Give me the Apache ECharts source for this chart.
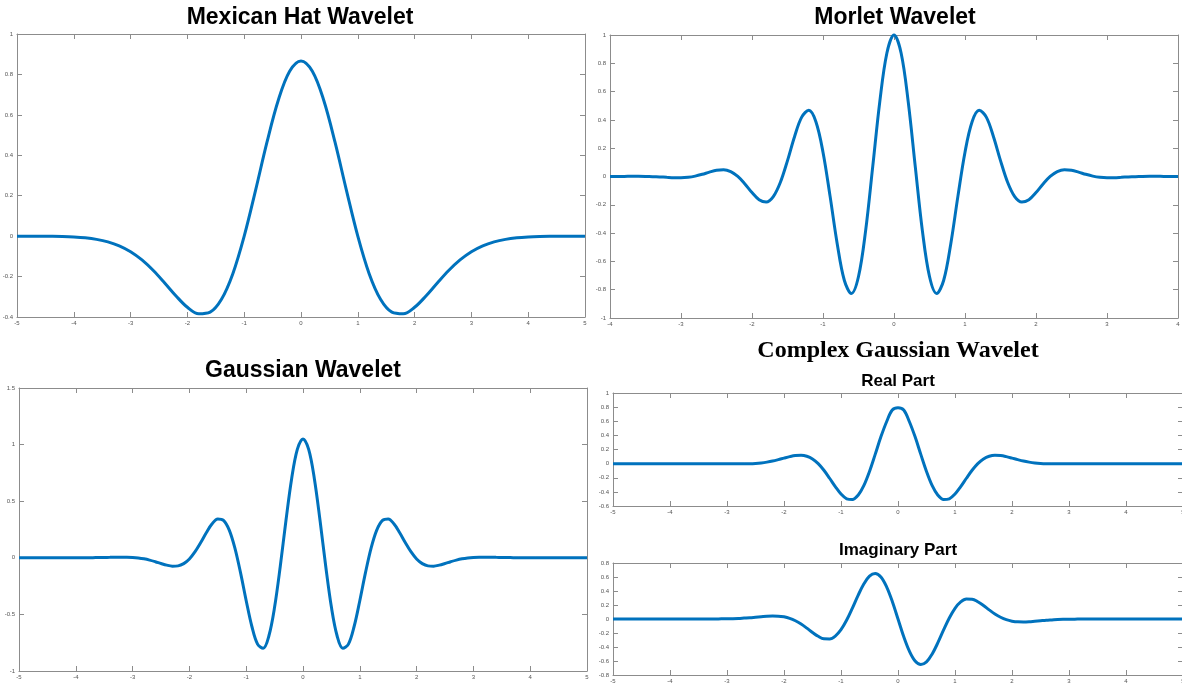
<!DOCTYPE html>
<html>
<head>
<meta charset="utf-8">
<script src="https://cdn.jsdelivr.net/npm/echarts@6/dist/echarts.min.js"></script>
<style>html,body{margin:0;padding:0;background:#fff;overflow:hidden}#c{width:1182px;height:683px}</style>
</head>
<body>
<div id="c"></div>
<script>
// ---- data ----
var hatX = [-5,-4.8,-4.6,-4.4,-4.2,-4,-3.8,-3.6,-3.4,-3.2,-3,-2.8,-2.6,-2.4,-2.2,-2,-1.8,-1.6,-1.4,-1.2,-1,-0.8,-0.6,-0.4,-0.2,0,0.2,0.4,0.6,0.8,1,1.2,1.4,1.6,1.8,2,2.2,2.4,2.6,2.8,3,3.2,3.4,3.6,3.8,4,4.2,4.4,4.6,4.8,5];
var hatY = [-0.0001,-0.0002,-0.0004,-0.0010,-0.0021,-0.0044,-0.0085,-0.0159,-0.0283,-0.0479,-0.0771,-0.1177,-0.1700,-0.2316,-0.2960,-0.3520,-0.3843,-0.3761,-0.3124,-0.1857,0,0.2266,0.4635,0.6723,0.8158,0.8670,0.8158,0.6723,0.4635,0.2266,0,-0.1857,-0.3124,-0.3761,-0.3843,-0.3520,-0.2960,-0.2316,-0.1700,-0.1177,-0.0771,-0.0479,-0.0283,-0.0159,-0.0085,-0.0044,-0.0021,-0.0010,-0.0004,-0.0002,-0.0001];

var morletX = [-4,-3.9,-3.8,-3.7,-3.6,-3.5,-3.4,-3.3,-3.2,-3.1,-3,-2.9,-2.8,-2.7,-2.6,-2.5,-2.4,-2.3,-2.2,-2.1,-2,-1.9,-1.8,-1.7,-1.6,-1.5,-1.4,-1.3,-1.2,-1.1,-1,-0.9,-0.8,-0.7,-0.6,-0.5,-0.4,-0.3,-0.2,-0.1,0,0.1,0.2,0.3,0.4,0.5,0.6,0.7,0.8,0.9,1,1.1,1.2,1.3,1.4,1.5,1.6,1.7,1.8,1.9,2,2.1,2.2,2.3,2.4,2.5,2.6,2.7,2.8,2.9,3,3.1,3.2,3.3,3.4,3.5,3.6,3.7,3.8,3.9,4];
var morletY = [0.0001,0.0004,0.0007,0.0010,0.0010,0.0005,-0.0009,-0.0030,-0.0057,-0.0080,-0.0084,-0.0053,0.0027,0.0155,0.0309,0.0438,0.0474,0.0343,0.0004,-0.0524,-0.1136,-0.1640,-0.1803,-0.1419,-0.0405,0.1125,0.2829,0.4195,0.4674,0.3870,0.1720,-0.1406,-0.4746,-0.7330,-0.8269,-0.7070,-0.3842,0.0676,0.5296,0.8732,1.0000,0.8732,0.5296,0.0676,-0.3842,-0.7070,-0.8269,-0.7330,-0.4746,-0.1406,0.1720,0.3870,0.4674,0.4195,0.2829,0.1125,-0.0405,-0.1419,-0.1803,-0.1640,-0.1136,-0.0524,0.0004,0.0343,0.0474,0.0438,0.0309,0.0155,0.0027,-0.0053,-0.0084,-0.0080,-0.0057,-0.0030,-0.0009,0.0005,0.0010,0.0010,0.0007,0.0004,0.0001];

var fineX = [-5,-4.9,-4.8,-4.7,-4.6,-4.5,-4.4,-4.3,-4.2,-4.1,-4,-3.9,-3.8,-3.7,-3.6,-3.5,-3.4,-3.3,-3.2,-3.1,-3,-2.9,-2.8,-2.7,-2.6,-2.5,-2.4,-2.3,-2.2,-2.1,-2,-1.9,-1.8,-1.7,-1.6,-1.5,-1.4,-1.3,-1.2,-1.1,-1,-0.9,-0.8,-0.7,-0.6,-0.5,-0.4,-0.3,-0.2,-0.1,0,0.1,0.2,0.3,0.4,0.5,0.6,0.7,0.8,0.9,1,1.1,1.2,1.3,1.4,1.5,1.6,1.7,1.8,1.9,2,2.1,2.2,2.3,2.4,2.5,2.6,2.7,2.8,2.9,3,3.1,3.2,3.3,3.4,3.5,3.6,3.7,3.8,3.9,4,4.1,4.2,4.3,4.4,4.5,4.6,4.7,4.8,4.9,5];

var gaussY = [0,0,0,0,0,0,0,0,0.0001,0.0002,0.0004,0.0006,0.0010,0.0015,0.0022,0.0031,0.0040,0.0049,0.0054,0.0049,0.0028,-0.0017,-0.0092,-0.0203,-0.0345,-0.0503,-0.0649,-0.0737,-0.0712,-0.0514,-0.0101,0.0537,0.1354,0.2237,0.3005,0.3437,0.3311,0.2470,0.0880,-0.1315,-0.3789,-0.6069,-0.7623,-0.7985,-0.6887,-0.4356,-0.0750,0.3294,0.6988,0.9572,1.0500,0.9572,0.6988,0.3294,-0.0750,-0.4356,-0.6887,-0.7985,-0.7623,-0.6069,-0.3789,-0.1315,0.0880,0.2470,0.3311,0.3437,0.3005,0.2237,0.1354,0.0537,-0.0101,-0.0514,-0.0712,-0.0737,-0.0649,-0.0503,-0.0345,-0.0203,-0.0092,-0.0017,0.0028,0.0049,0.0054,0.0049,0.0040,0.0031,0.0022,0.0015,0.0010,0.0006,0.0004,0.0002,0.0001,0,0,0,0,0,0,0,0];

var realY = [0,0,0,0,0,0,0,0,0,0,0,0,0,0,0,0,0,-0.001,-0.001,-0.002,-0.002,-0.003,-0.003,-0.002,-0.001,0.003,0.010,0.021,0.036,0.056,0.078,0.099,0.115,0.119,0.105,0.067,0.000,-0.094,-0.207,-0.325,-0.430,-0.498,-0.508,-0.447,-0.311,-0.110,0.131,0.379,0.593,0.759,0.790,0.759,0.593,0.379,0.131,-0.110,-0.311,-0.447,-0.508,-0.498,-0.430,-0.325,-0.207,-0.094,0.000,0.067,0.105,0.119,0.115,0.099,0.078,0.056,0.036,0.021,0.010,0.003,-0.001,-0.002,-0.003,-0.003,-0.002,-0.002,-0.001,-0.001,0,0,0,0,0,0,0,0,0,0,0,0,0,0,0,0,0];

var imagY = [0,0,0,0,0,0,0,0,0,0,0,0,0,0,0,0,0,0.0005,0.001,0.002,0.003,0.005,0.008,0.013,0.018,0.025,0.032,0.039,0.042,0.041,0.031,0.010,-0.025,-0.072,-0.130,-0.192,-0.247,-0.283,-0.285,-0.244,-0.153,-0.015,0.156,0.338,0.500,0.613,0.650,0.599,0.459,0.251,0,-0.251,-0.459,-0.599,-0.650,-0.613,-0.500,-0.338,-0.156,0.015,0.153,0.244,0.285,0.283,0.247,0.192,0.130,0.072,0.025,-0.010,-0.031,-0.041,-0.042,-0.039,-0.032,-0.025,-0.018,-0.013,-0.008,-0.005,-0.003,-0.002,-0.001,-0.0005,0,0,0,0,0,0,0,0,0,0,0,0,0,0,0,0,0];

var titles = ['Mexican Hat Wavelet', 'Morlet Wavelet', 'Gaussian Wavelet', 'Complex Gaussian Wavelet', 'Real Part', 'Imaginary Part'];

// ---- chart ----
var chart = echarts.init(document.getElementById('c'), null, {renderer: 'canvas'});
var AX = '#8c8c8c', LBL = '#555555', LINE = '#0072BD';
var FONT = '"Liberation Sans", Arial, sans-serif';

var panels = [
  {grid: {left: 17, top: 34, width: 568, height: 283}, xr: [-5, 5, 1], yr: [-0.4, 1, 0.2], xs: hatX, ys: hatY},
  {grid: {left: 610, top: 35, width: 568, height: 283}, xr: [-4, 4, 1], yr: [-1, 1, 0.2], xs: morletX, ys: morletY},
  {grid: {left: 19, top: 388, width: 568, height: 283}, xr: [-5, 5, 1], yr: [-1, 1.5, 0.5], xs: fineX, ys: gaussY},
  {grid: {left: 613, top: 393, width: 570, height: 113}, xr: [-5, 5, 1], yr: [-0.6, 1, 0.2], xs: fineX, ys: realY},
  {grid: {left: 613, top: 563, width: 570, height: 112}, xr: [-5, 5, 1], yr: [-0.8, 0.8, 0.2], xs: fineX, ys: imagY}
];

function fmt(v) { return String(Math.round(v * 100) / 100); }

var grids = [], xAxes = [], yAxes = [], series = [];
panels.forEach(function (p, i) {
  grids.push(Object.assign({containLabel: false, outerBoundsMode: 'none'}, p.grid));
  var common = {
    type: 'value', gridIndex: i, splitLine: {show: false},
    axisLine: {show: true, onZero: false, lineStyle: {color: AX, width: 1}},
    axisTick: {show: true, inside: true, length: 5, lineStyle: {color: AX, width: 1}}
  };
  xAxes.push(Object.assign({}, common, {position: 'bottom', min: p.xr[0], max: p.xr[1], interval: p.xr[2],
    axisLabel: {show: true, fontSize: 6, color: LBL, margin: 3, fontFamily: FONT, formatter: fmt, hideOverlap: false}}));
  xAxes.push(Object.assign({}, common, {position: 'top', min: p.xr[0], max: p.xr[1], interval: p.xr[2],
    axisLabel: {show: false}}));
  yAxes.push(Object.assign({}, common, {position: 'left', min: p.yr[0], max: p.yr[1], interval: p.yr[2],
    axisLabel: {show: true, fontSize: 6, color: LBL, margin: 4, fontFamily: FONT, formatter: fmt}}));
  yAxes.push(Object.assign({}, common, {position: 'right', min: p.yr[0], max: p.yr[1], interval: p.yr[2],
    axisLabel: {show: false}}));
  series.push({
    type: 'line', xAxisIndex: 2 * i, yAxisIndex: 2 * i, showSymbol: false, smooth: 0.35,
    clip: false, lineStyle: {color: LINE, width: 3}, itemStyle: {color: LINE},
    data: p.xs.map(function (x, k) { return [x, p.ys[k]]; })
  });
});

function txt(s, x, y, size, family) {
  return {type: 'text', x: x, y: y, silent: true,
    style: {text: s, fontSize: size, fontWeight: 'bold', fontFamily: family, fill: '#000', align: 'center', verticalAlign: 'middle'}};
}

chart.setOption({
  animation: false,
  backgroundColor: '#ffffff',
  grid: grids, xAxis: xAxes, yAxis: yAxes, series: series,
  graphic: [
    txt(titles[0], 300, 18, 23, FONT),
    txt(titles[1], 895, 18, 23, FONT),
    txt(titles[2], 303, 371, 23, FONT),
    txt(titles[3], 898, 351, 24, '"Liberation Serif", "Times New Roman", serif'),
    txt(titles[4], 898, 381, 17, FONT),
    txt(titles[5], 898, 550, 17, FONT)
  ]
});
</script>
</body>
</html>
